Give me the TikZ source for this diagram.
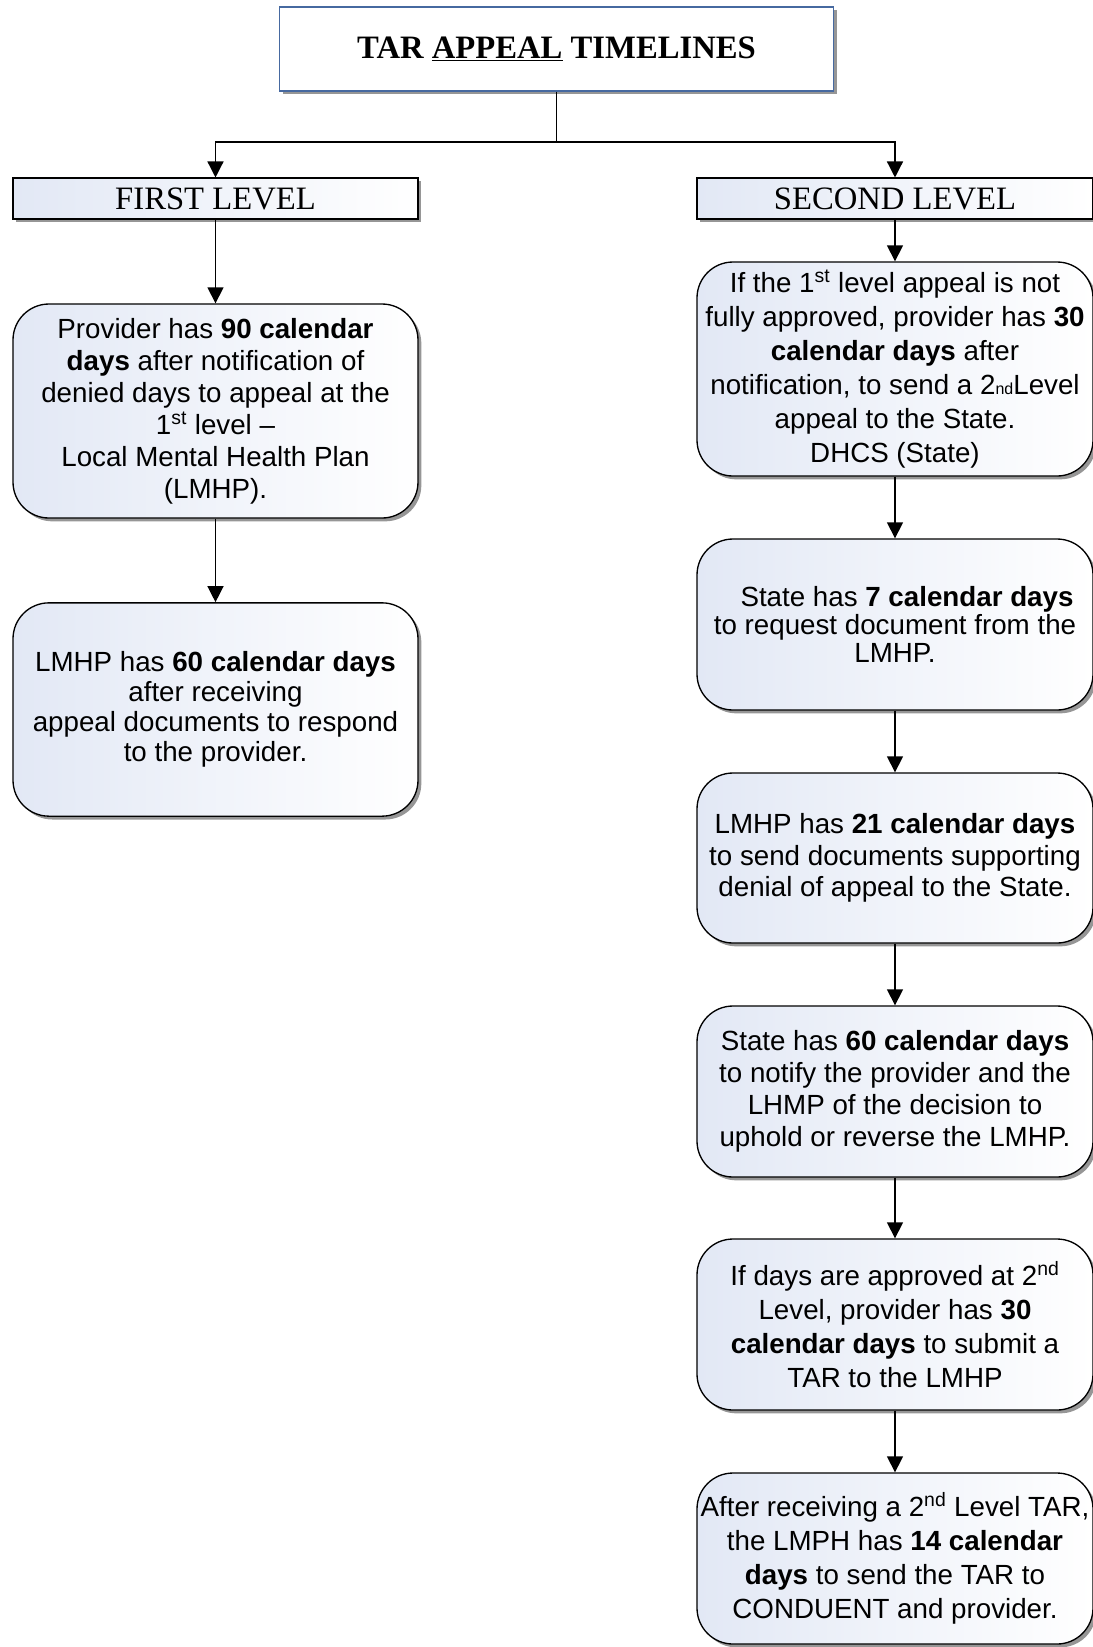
\documentclass[tikz,border=0pt]{standalone}
\usepackage{fontspec}
\setmainfont{Liberation Sans}
\newfontfamily\seriffont{Liberation Serif}
\usetikzlibrary{shadows,arrows.meta}
\definecolor{boxblue}{RGB}{226,232,245}
\definecolor{titleborder}{RGB}{70,105,160}
\begin{document}
\begin{tikzpicture}[x=0.75pt,y=-0.75pt,
 shad/.style={drop shadow={shadow xshift=2.5pt,shadow yshift=-2.5pt,fill=black!55,opacity=0.75}},
 titlebox/.style={draw=titleborder,line width=0.8pt,fill=white,shad,minimum width=416pt,minimum height=63pt,
   font=\seriffont\bfseries\fontsize{24.5}{28}\selectfont},
 levelbox/.style={draw=black,line width=0.8pt,left color=boxblue,right color=white,shad,
   minimum height=30.75pt,inner sep=0pt,font=\seriffont\fontsize{24.5}{28}\selectfont},
 roundbox/.style={draw=black,line width=1pt,rounded corners=27pt,left color=boxblue,right color=white,shad,
   align=center,inner sep=2pt},
 fs/.style={font=\fontsize{20.8}{#1}\selectfont},
 arr/.style={line width=1pt,-{Triangle[width=12pt,length=12pt]}}]
\useasboundingbox (0,0) rectangle (1093,1647);

\node[titlebox] (title) at (556.5,49) {TAR \underline{APPEAL} TIMELINES};
\node[levelbox,minimum width=303.75pt] (L0) at (215.5,198.5) {FIRST LEVEL};
\node[levelbox,minimum width=297pt] (R0) at (895,198.5) {SECOND LEVEL};

\node[roundbox,fs=24,minimum width=303.75pt,minimum height=160.5pt] (L1) at (215.5,411)
 {Provider has \textbf{90 calendar}\\ \textbf{days} after notification of\\ denied days to appeal at the\\ 1\textsuperscript{st} level --\\ Local Mental Health Plan\\ (LMHP).};
\node[roundbox,fs=22.5,minimum width=303.75pt,minimum height=160pt] (L2) at (215.5,709.5)
 {LMHP has \textbf{60 calendar days}\\ after receiving\\ appeal documents to respond\\ to the provider.};

\node[roundbox,fs=25.5,minimum width=297pt,minimum height=160.5pt] (R1) at (895,369)
 {If the 1\textsuperscript{st} level appeal is not\\ fully approved, provider has \textbf{30}\\ \textbf{calendar days} after\\ notification, to send a 2{\fontsize{12}{12}\selectfont nd}Level\\ appeal to the State.\\ DHCS (State)};
\node[roundbox,fs=21,minimum width=297pt,minimum height=128.25pt] (R2) at (895,624.5)
 {\hspace*{18pt}State has \textbf{7 calendar days}\\ to request document from the\\ LMHP.};
\node[roundbox,fs=23.6,minimum width=297pt,minimum height=127.5pt] (R3) at (895,858)
 {LMHP has \textbf{21 calendar days}\\ to send documents supporting\\ denial of appeal to the State.};
\node[roundbox,fs=24,minimum width=297pt,minimum height=128.25pt] (R4) at (895,1091.5)
 {State has \textbf{60 calendar days}\\ to notify the provider and the\\ LHMP of the decision to\\ uphold or reverse the LMHP.};
\node[roundbox,fs=25.5,minimum width=297pt,minimum height=128.25pt] (R5) at (895,1324.5)
 {If days are approved at 2\textsuperscript{nd}\\ Level, provider has \textbf{30}\\ \textbf{calendar days} to submit a\\ TAR to the LMHP};
\node[roundbox,fs=25.5,minimum width=297pt,minimum height=128.25pt] (R6) at (895,1558.5)
 {After receiving a 2\textsuperscript{nd} Level TAR,\\ the LMPH has \textbf{14 calendar}\\ \textbf{days} to send the TAR to\\ CONDUENT and provider.};

\coordinate (j) at (556.5,142);
\draw[line width=1pt] (title) -- (j);
\draw[arr] (j) -| (L0);
\draw[arr] (j) -| (R0);
\draw[arr] (L0) -- (L1);
\draw[arr] (L1) -- (L2);
\draw[arr] (R0) -- (R1);
\draw[arr] (R1) -- (R2);
\draw[arr] (R2) -- (R3);
\draw[arr] (R3) -- (R4);
\draw[arr] (R4) -- (R5);
\draw[arr] (R5) -- (R6);
\end{tikzpicture}
\end{document}
